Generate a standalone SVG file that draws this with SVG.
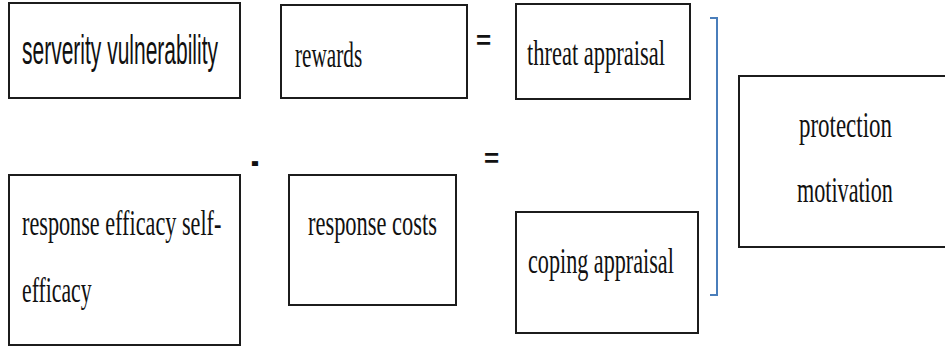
<svg xmlns="http://www.w3.org/2000/svg" width="945" height="347" viewBox="0 0 945 347">
<style>
.box{fill:#fff;stroke:#1c1c1c;stroke-width:2}
.t{font-family:"Liberation Serif","Times New Roman",serif;font-size:36px;fill:#111}
.s{font-family:"Liberation Sans",Arial,sans-serif;font-size:40px;fill:#111}
.op{font-family:"Liberation Sans",Arial,sans-serif;font-weight:bold;fill:#111}
.br{fill:none;stroke:#4a7ebb;stroke-width:2}
</style>
<rect width="945" height="347" fill="#fff"/>
<g id="serverity">
<rect class="box" x="9" y="3" width="231" height="95"/>
<text class="s" x="0" y="0" transform="translate(22 64) scale(0.525 1)">serverity vulnerability</text>
</g>
<g id="rewards">
<rect class="box" x="281" y="5" width="186" height="93"/>
<text class="t" x="0" y="0" transform="translate(295 67) scale(0.59 1)">rewards</text>
</g>
<g id="threat">
<rect class="box" x="516" y="4" width="174" height="95"/>
<text class="t" x="0" y="0" transform="translate(527 65) scale(0.625 1)">threat appraisal</text>
</g>
<g id="protection">
<rect class="box" x="739" y="76" width="215" height="171"/>
<text class="t" x="0" y="0" transform="translate(799 137) scale(0.637 1)">protection</text>
<text class="t" x="0" y="0" transform="translate(797 202) scale(0.615 1)">motivation</text>
</g>
<g id="efficacy">
<rect class="box" x="9" y="175" width="231" height="170"/>
<text class="t" x="0" y="0" transform="translate(22 235) scale(0.617 1)">response efficacy self-</text>
<text class="t" x="0" y="0" transform="translate(22 302) scale(0.604 1)">efficacy</text>
</g>
<g id="costs">
<rect class="box" x="289" y="175" width="167" height="130"/>
<text class="t" x="0" y="0" transform="translate(308 235) scale(0.623 1)">response costs</text>
</g>
<g id="coping">
<rect class="box" x="516" y="212" width="182" height="121"/>
<text class="t" x="0" y="0" transform="translate(528 273) scale(0.616 1)">coping appraisal</text>
</g>
<g id="connectors">
<text class="op" x="476" y="49" font-size="26">=</text>
<text class="op" x="484" y="167" font-size="26">=</text>
<text class="op" x="0" y="0" font-size="40" transform="translate(251 174) scale(0.6 1)">-</text>
<path class="br" d="M710,18 H717 V295 H710"/>
</g>
</svg>
